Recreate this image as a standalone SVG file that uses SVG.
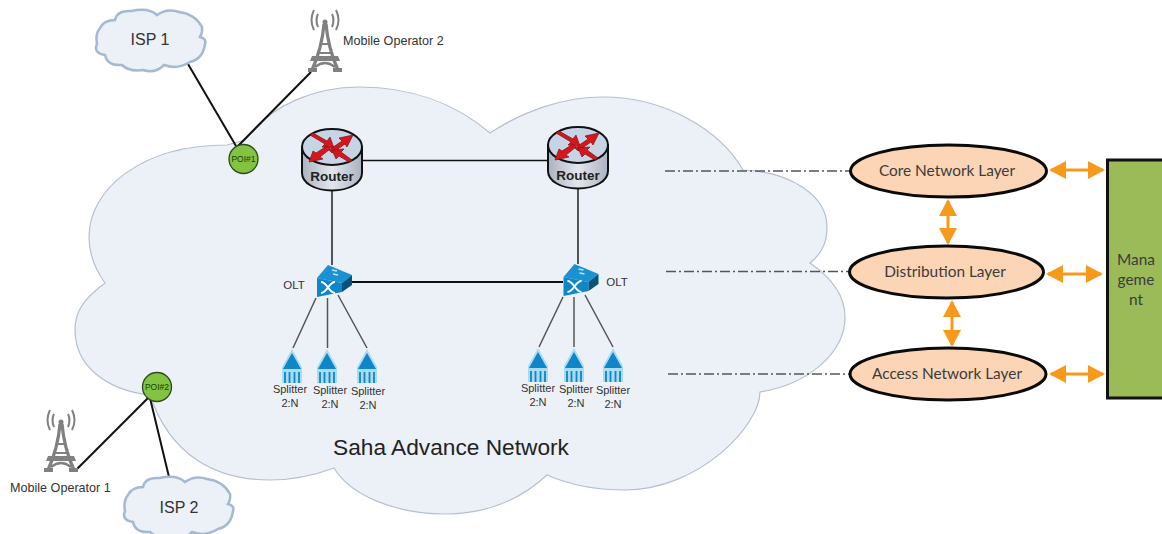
<svg xmlns="http://www.w3.org/2000/svg" width="1162" height="534" viewBox="0 0 1162 534">
<style>
text{font-family:"Liberation Sans",Arial,sans-serif;fill:#333;text-anchor:middle}
.cal{font-family:Lato,"Open Sans",sans-serif;font-size:15.4px;fill:#3c3c3c}
.sp{font-size:11px}
.olt{font-size:11.500px}
.poi{font-size:8.500px;fill:#16400c}
.mo{font-size:12.600px;text-anchor:start}
.isp{font-size:16px}
.rt{font-size:13.500px;font-weight:bold;fill:#222}
.blk{stroke:#111;fill:none}
.gry{stroke:#555;fill:none}
.dd{stroke:#555;stroke-width:1.4;stroke-dasharray:10 3 2 3;fill:none}
.or{stroke:#f79a1b;stroke-width:3;fill:none;marker-start:url(#oa);marker-end:url(#oa)}
.lay{fill:#fbd5b5;stroke:#0a0a0a;stroke-width:3}
.c{fill:#ecf0f7;stroke:#a4b9d2;stroke-width:2.5}
.p{fill:#82c341;stroke:#2d4a20;stroke-width:1.3}
</style>
<defs>
<marker id="oa" viewBox="0 0 17 18" refX="15" refY="9" markerWidth="17" markerHeight="18" markerUnits="userSpaceOnUse" orient="auto-start-reverse"><path d="M0,0L17,9L0,18Z" fill="#f79a1b"/></marker>
<linearGradient id="rg" x1="0" x2="1" y1="0" y2="0"><stop offset="0" stop-color="#aab3c1"/><stop offset=".5" stop-color="#e3e6ec"/><stop offset="1" stop-color="#aab3c1"/></linearGradient>
<path id="cl" d="M-51,-12Q-47,-20 -36,-20Q-34,-30 -20,-29Q-2,-33 6,-25Q16,-32 28,-28Q44,-26 51,-13Q52,-8 49,-3Q56,-1 54,4Q52,19 39,22Q26,30 13,25Q4,34 -8,30Q-22,32 -29,25Q-44,26 -46,15Q-58,13 -54,4Q-56,-6 -51,-12Z"/>
<g id="tw">
<path d="M-1,-32Q-3,-8 -13,14M1,-32Q3,-8 13,14" fill="none" stroke="#808080" stroke-width="3.200"/>
<path d="M-5,-12H5M-7,-3H7" stroke="#808080" stroke-width="2.200" fill="none"/>
<path d="M-13,0H13L15,5H-15Z" fill="#808080"/>
<path d="M-10,11Q0,3 10,11" fill="none" stroke="#808080" stroke-width="2.400"/>
<path d="M-17,12H-8V16H-17ZM8,12H17V16H8Z" fill="#808080"/>
<circle cx="0" cy="-34" r="2.500" fill="#808080"/>
<path d="M-7,-42Q-10,-36 -7,-29M7,-42Q10,-36 7,-29M-11,-46Q-16,-36 -11,-26M11,-46Q16,-36 11,-26" fill="none" stroke="#808080" stroke-width="2"/>
</g>
<g id="rr">
<path d="M-30,-13V13C-30,23 -17,30.500 0,30.500C17,30.500 30,23 30,13V-13Z" fill="url(#rg)" stroke="#111" stroke-width="2"/>
<ellipse cx="0" cy="-13" rx="30" ry="18" fill="#c7d4e6" stroke="#111" stroke-width="2"/>
<g fill="#d8141c" stroke="#6b1a1a" stroke-width=".7">
<path d="M-22,-25L-19,-27L-5,-19L-2,-23L2,-12L-10,-13L-7,-16Z"/>
<path d="M-3,-10L10,-19L7,-22L21,-25L15,-13L13,-16L0,-7Z"/>
<path d="M-2,-11L-12,-3L-9,-1L-23,2L-19,-9L-16,-7L-5,-14Z"/>
<path d="M20,0L17,2L7,-4L4,-1L0,-10L12,-11L9,-8Z"/>
</g>
</g>
<g id="ol">
<path d="M-13,-4L-2,-17L22,-7L12,1Z" fill="#1a92d2"/>
<path d="M-13,-4L12,1L12,10L-13,15Z" fill="#0e86c8"/>
<path d="M12,1L22,-7L22,3L12,10Z" fill="#07537f"/>
<path d="M-9,0C-3,0 -1,11 5,11M-9,11C-3,11 -1,0 5,0" stroke="#fff" stroke-width="2" fill="none"/>
<path d="M2,-12L7,-11M3,-8L8,-7" stroke="#bfe4f7" stroke-width="1.500"/>
</g>
<g id="sl">
<path d="M0,0L10,18V34H-10V18Z" fill="#a9dcf2"/>
<path d="M0,4L9,20H-9Z" fill="#0e86c8"/>
<path d="M-7,23V34M-2.500,23V34M2.500,23V34M7,23V34" stroke="#0e86c8" stroke-width="1.800"/>
</g>
</defs>

<g id="network-cloud">
<path d="M105,283C92,265 89,250 89,237C89,190 140,145 227,145L245,140C270,105 315,87 360,87C410,87 455,103 490,133C525,110 565,97 603,97C665,97 720,130 743,170C790,172 827,195 827,227C827,245 820,255 810,263C832,278 845,296 845,317C845,355 805,385 760,392C760,425 700,490 624,490C595,490 570,485 547,475C520,500 485,514 445,514C395,514 350,495 334,468C310,477 290,480 270,480C215,480 170,455 150,395C105,390 75,365 75,330C75,310 85,298 105,283Z" fill="#ecf0f7" stroke="#b5c0cf" stroke-width="1.200"/>
<text x="451" y="455" style="font-size:22.700px;fill:#222">Saha Advance Network</text>
</g>

<g id="connectors">
<path class="blk" stroke-width="2" d="M188,64L236,146M311,72L238,146M148,398L76,470M150,398L169,477"/>
<path class="blk" stroke-width="1.500" d="M363,160.500H548"/>
<path class="blk" stroke-width="2" d="M352,282H563"/>
<path class="gry" stroke-width="2" d="M332,190V265M578,189V264"/>
<path class="gry" stroke-width="1.500" d="M316,298L293,348M327.500,298V348M338,295L367,348M563,297L539,347M574,297V347M585,295L613,347"/>
<path class="dd" d="M665,171H850M666,271.500H848M668,374H850"/>
<path class="or" d="M1051,170H1103"/>
<path class="or" d="M1048,274H1101"/>
<path class="or" d="M1051,374H1103"/>
<path class="or" d="M948,201V243"/>
<path class="or" d="M952,302V345"/>
</g>

<g id="isp1"><use href="#cl" class="c" transform="translate(151,40)"/><text class="isp" x="150" y="45">ISP 1</text></g>
<g id="isp2"><use href="#cl" class="c" transform="translate(179,507)"/><text class="isp" x="179" y="513">ISP 2</text></g>
<g id="mobile-operator-2"><use href="#tw" transform="translate(325,56)"/><text class="mo" x="343" y="45">Mobile Operator 2</text></g>
<g id="mobile-operator-1"><use href="#tw" transform="translate(61,456)"/><text class="mo" x="10" y="492">Mobile Operator 1</text></g>
<g id="poi1"><circle class="p" cx="243.500" cy="159" r="14.500"/><text class="poi" x="243.500" y="162">POI#1</text></g>
<g id="poi2"><circle class="p" cx="157" cy="387" r="14.500"/><text class="poi" x="157" y="390">POI#2</text></g>

<g id="router1"><use href="#rr" transform="translate(332,160)"/><text class="rt" x="332" y="181">Router</text></g>
<g id="router2"><use href="#rr" transform="translate(578,158)"/><text class="rt" x="578" y="180">Router</text></g>
<g id="olt1"><use href="#ol" transform="translate(330,282)"/><text class="olt" x="294" y="289">OLT</text></g>
<g id="olt2"><use href="#ol" transform="translate(576.500,281)"/><text class="olt" x="617" y="286">OLT</text></g>

<g id="splitter1"><use href="#sl" transform="translate(292,349)"/><text class="sp" x="290" y="393">Splitter</text><text class="sp" x="290" y="407">2:N</text></g>
<g id="splitter2"><use href="#sl" transform="translate(327,349)"/><text class="sp" x="330" y="394">Splitter</text><text class="sp" x="330" y="408">2:N</text></g>
<g id="splitter3"><use href="#sl" transform="translate(367,349)"/><text class="sp" x="368" y="395">Splitter</text><text class="sp" x="368" y="409">2:N</text></g>
<g id="splitter4"><use href="#sl" transform="translate(538,348)"/><text class="sp" x="538" y="392">Splitter</text><text class="sp" x="538" y="406">2:N</text></g>
<g id="splitter5"><use href="#sl" transform="translate(574,348)"/><text class="sp" x="576" y="393">Splitter</text><text class="sp" x="576" y="407">2:N</text></g>
<g id="splitter6"><use href="#sl" transform="translate(613,348)"/><text class="sp" x="613" y="394">Splitter</text><text class="sp" x="613" y="408">2:N</text></g>

<g id="core-layer"><ellipse class="lay" cx="948.500" cy="171" rx="98" ry="26"/><text class="cal" x="947" y="176">Core Network Layer</text></g>
<g id="distribution-layer"><ellipse class="lay" cx="946.500" cy="272" rx="97" ry="26"/><text class="cal" x="945" y="277">Distribution Layer</text></g>
<g id="access-layer"><ellipse class="lay" cx="948" cy="374" rx="98" ry="26"/><text class="cal" x="947" y="379">Access Network Layer</text></g>
<g id="management"><rect x="1107.500" y="160" width="60" height="238" fill="#9bbb59" stroke="#111" stroke-width="3"/><text class="cal" x="1136" y="265">Mana</text><text class="cal" x="1136" y="285">geme</text><text class="cal" x="1136" y="305">nt</text></g>
</svg>
